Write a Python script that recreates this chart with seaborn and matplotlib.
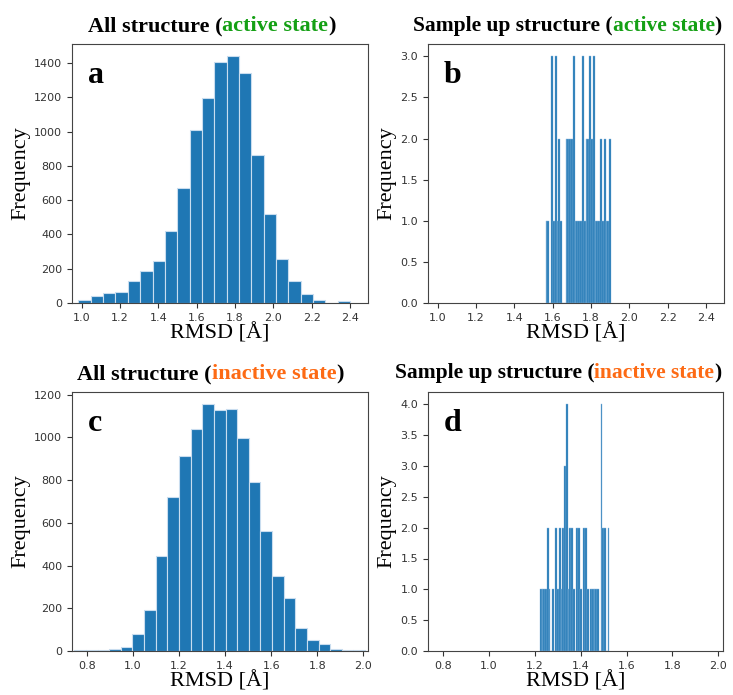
import numpy as np
import pandas as pd
import matplotlib
matplotlib.use("Agg")
import matplotlib.pyplot as plt
import seaborn as sns

# ---------------- data ----------------
# panel a: all structures, active state
a_bin_start = 0.9826
a_bin_width = 0.06445
a_counts = [15, 39, 58, 62, 126, 185, 243, 418, 671, 1007, 1194,
            1406, 1439, 1342, 861, 519, 259, 126, 51, 17, 2, 10]

# panel b: sampled-up structures, active state
b_bin_start = 1.563
b_bin_width = 0.00947
b_counts = [1, 1, 0, 3, 1, 3, 1, 2, 1, 0, 0, 2, 2, 2, 2, 3, 1, 1,
            1, 1, 3, 1, 2, 2, 3, 2, 3, 1, 1, 1, 2, 1, 2, 1, 1, 2]

# panel c: all structures, inactive state
c_bin_start = 0.745
c_bin_width = 0.0505
c_counts = [3, 3, 4, 10, 20, 81, 193, 443, 723, 915, 1039, 1155, 1130,
            1133, 996, 793, 561, 352, 246, 108, 53, 34, 9, 5, 3]

# panel d: sampled-up structures, inactive state
d_bin_start = 1.222
d_bin_width = 0.00758
d_counts = [1, 1, 1, 1, 2, 1, 0, 1, 0, 2, 1, 2, 1, 2, 3, 4, 1, 2, 2, 1,
            0, 2, 2, 1, 0, 2, 2, 1, 0, 1, 1, 1, 1, 1, 0, 4, 2, 2, 0, 2]

titles = [
    [("All structure (", "black"), ("active state", "#14a014"), (")", "black")],
    [("Sample up structure (", "black"), ("active state", "#14a014"), (")", "black")],
    [("All structure (", "black"), ("inactive state", "#fd6a14"), (")", "black")],
    [("Sample up structure (", "black"), ("inactive state", "#fd6a14"), (")", "black")],
]
letters = ["a", "b", "c", "d"]
xlims_active = (0.949, 2.494)
xlims_inactive = (0.735, 2.02)

SERIF = ["Liberation Serif", "DejaVu Serif"]
W, H = 733, 695

fig = plt.figure(figsize=(W / 100, H / 100), dpi=100)

def ax_at(left, top, right, bottom):
    return fig.add_axes([left / W, 1 - bottom / H, (right - left) / W, (bottom - top) / H])

axes = [ax_at(72, 44, 368, 303), ax_at(428, 44, 724, 303),
        ax_at(72, 392, 368, 651), ax_at(428, 392, 723, 651)]

panels = [(a_bin_start, a_bin_width, a_counts, xlims_active, 0.8, "#c9ddef"),
          (b_bin_start, b_bin_width, b_counts, xlims_active, 0.3, "#8cb9df"),
          (c_bin_start, c_bin_width, c_counts, xlims_inactive, 0.8, "#c9ddef"),
          (d_bin_start, d_bin_width, d_counts, xlims_inactive, 0.3, "#8cb9df")]

for ax, (start, width, counts, xl, lw, ec), letter in zip(axes, panels, letters):
    counts = np.asarray(counts, dtype=float)
    edges = start + width * np.arange(len(counts) + 1)
    df = pd.DataFrame({"rmsd": (edges[:-1] + edges[1:]) / 2, "count": counts})
    sns.histplot(data=df, x="rmsd", weights="count", bins=[float(e) for e in edges],
                 ax=ax, color="#1f77b4", alpha=1, edgecolor=ec, linewidth=lw)
    ax.set_xlim(*xl)
    ax.set_ylim(0, counts.max() * 1.05)
    ax.set_xlabel("RMSD [Å]", fontsize=16, family=SERIF, labelpad=0)
    ax.set_ylabel("Frequency", fontsize=16, family=SERIF, labelpad=3)
    ax.tick_params(labelsize=8, length=3.5, colors="#333333")
    for sp in ax.spines.values():
        sp.set_color("#444444")
    ax.text(0.054, 0.85, letter, transform=ax.transAxes, fontsize=23,
            fontweight="bold", family=SERIF, va="baseline", ha="left")

axes[0].set_xticks([1.0, 1.2, 1.4, 1.6, 1.8, 2.0, 2.2, 2.4])
axes[1].set_xticks([1.0, 1.2, 1.4, 1.6, 1.8, 2.0, 2.2, 2.4])

renderer = fig.canvas.get_renderer()

def colored_title(cx, by, parts, size=16):
    texts = []
    for s, c in parts:
        t = fig.text(0, 1 - by / H, s, color=c, fontsize=size, fontweight="bold",
                     family=SERIF, ha="left", va="baseline")
        texts.append(t)
    widths = [t.get_window_extent(renderer).width for t in texts]
    total = sum(widths)
    x = cx - total / 2
    for t, w in zip(texts, widths):
        t.set_x(x / W)
        x += w

title_pos = [(211.5, 31, 16), (567.5, 31, 15.5), (210.5, 379, 16), (558, 378, 15.5)]
for (cx, by, sz), parts in zip(title_pos, titles):
    colored_title(cx, by, parts, size=sz)

fig.savefig("out.png", dpi=100)
